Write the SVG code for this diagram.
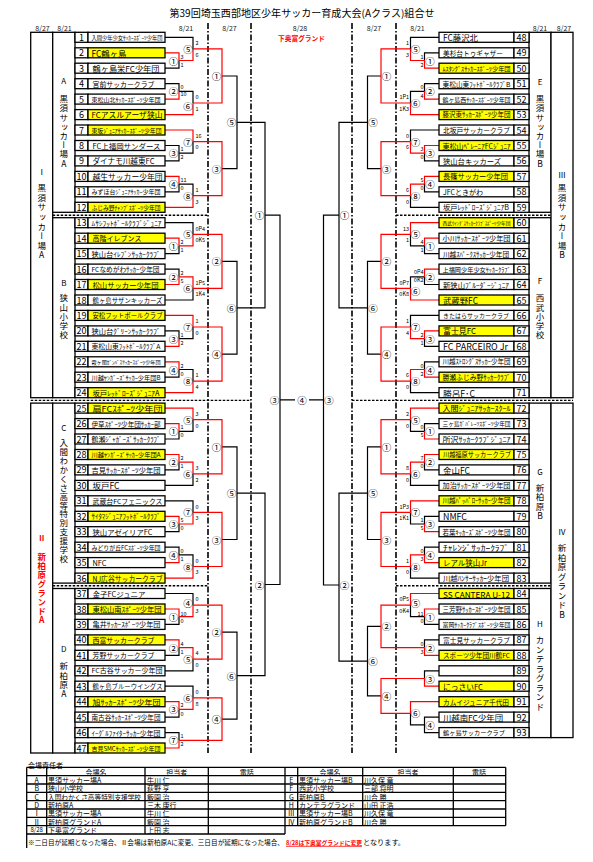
<svg xmlns="http://www.w3.org/2000/svg" width="593" height="862" viewBox="0 0 593 862">
<style>
text{font-family:"Noto Sans CJK JP","Noto Sans",sans-serif;fill:#000;dominant-baseline:central}
.bx{fill:#fff;stroke:#000;stroke-width:1.3}
.y{fill:#ffff00;stroke:#000;stroke-width:1.3}
.k{fill:none;stroke:#000;stroke-width:1.2}
.r{fill:none;stroke:#ff0000;stroke-width:1.2}
.n{font-size:9px;text-anchor:middle}
.c{font-size:9.5px;text-anchor:middle}
.s{font-size:5.5px}
.se{font-size:5.5px;text-anchor:end}
.d{font-size:7px;text-anchor:middle;fill:#222}
.dv{stroke:#000;stroke-width:1.6;stroke-dasharray:6 2 1.5 2;fill:none}
.dh{stroke:#000;stroke-width:1.4;stroke-dasharray:2.5 1.5;fill:none}
.v{font-size:8.5px;writing-mode:vertical-rl;text-orientation:upright;letter-spacing:0.7px}
.vl{font-size:8px;text-anchor:middle}
.red{fill:#ff0000;font-weight:bold}
.tb{fill:none;stroke:#000;stroke-width:1.3}
.tt{font-size:7px}
.tc{font-size:7px;text-anchor:middle}
</style>
<rect width="593" height="862" fill="#fff"/>
<text x="302" y="12" font-size="10" textLength="265" lengthAdjust="spacingAndGlyphs" text-anchor="middle">第39回埼玉西部地区少年サッカー育成大会(Aクラス)組合せ</text>
<g id="dates">
<text class="d" x="42.5" y="28">8/27</text><text class="d" x="64.5" y="28">8/21</text>
<text class="d" x="186" y="28">8/21</text><text class="d" x="229.5" y="28">8/27</text>
<text class="d" x="300" y="28">8/28</text>
<text class="d" x="374" y="28">8/27</text><text class="d" x="417.5" y="28">8/21</text>
<text class="d" x="540" y="28">8/21</text><text class="d" x="564" y="28">8/27</text>
</g>
<text x="278" y="38" font-size="6.7" class="red" textLength="47" lengthAdjust="spacingAndGlyphs">下奥富グランド</text>
<g id="dividers">
<path class="dv" d="M208 23V753M251 23V753M352 23V753M396 23V753"/>
<path class="dh" d="M52.7 215.3H208M52.7 585.8H208M396 215.3H551M396 585.8H551M30.7 400.4H251M352 400.4H573"/>
</g>
<g id="venues">
<rect class="bx" x="30.7" y="32.3" width="22" height="365.4"/>
<rect class="bx" x="30.7" y="403.1" width="22" height="349.9"/>
<rect class="bx" x="52.7" y="32.3" width="22.3" height="180"/>
<rect class="bx" x="52.7" y="217.7" width="22.3" height="180"/>
<rect class="bx" x="52.7" y="403.1" width="22.3" height="180"/>
<rect class="bx" x="52.7" y="588.5" width="22.3" height="164.5"/>
<rect class="bx" x="529" y="32.3" width="22" height="180"/>
<rect class="bx" x="529" y="217.7" width="22" height="180"/>
<rect class="bx" x="529" y="403.1" width="22" height="180"/>
<rect class="bx" x="529" y="588.5" width="22" height="149.1"/>
<rect class="bx" x="551" y="32.3" width="22" height="365.4"/>
<rect class="bx" x="551" y="403.1" width="22" height="334.5"/>
<text class="vl" x="63.8" y="80">A</text><text class="v" x="63.8" y="94.8">黒須サッカー場A</text>
<text class="vl" x="63.8" y="282">B</text><text class="v" x="63.8" y="293.8" style="letter-spacing:0.8px">狭山小学校</text>
<text class="vl" x="63.8" y="427">C</text><text class="v" x="63.8" y="438.8" style="letter-spacing:0.4px">入間わかくさ高等特別支援学校</text>
<text class="vl" x="63.8" y="648">D</text><text class="v" x="63.8" y="661.8" style="letter-spacing:0.8px">新柏原A</text>
<text class="vl" x="41.7" y="171">Ⅰ</text><text class="v" x="41.7" y="183.8" style="letter-spacing:1.1px">黒須サッカー場A</text>
<text class="vl red" x="41.7" y="537">Ⅱ</text><text class="v red" x="41.7" y="552.5" style="letter-spacing:0.5px">新柏原グランドA</text>
<text class="vl" x="540" y="81.7">E</text><text class="v" x="540" y="94.8">黒須サッカー場B</text>
<text class="vl" x="540" y="280">F</text><text class="v" x="540" y="293.8" style="letter-spacing:0.8px">西武小学校</text>
<text class="vl" x="540" y="471.7">G</text><text class="v" x="540" y="483.8">新柏原B</text>
<text class="vl" x="540" y="623">H</text><text class="v" x="540" y="635.8" style="letter-spacing:1px">カンテラグランド</text>
<text class="vl" x="562" y="174.7">Ⅲ</text><text class="v" x="562" y="183.8" style="letter-spacing:1.1px">黒須サッカー場B</text>
<text class="vl" x="562" y="531.7">Ⅳ</text><text class="v" x="562" y="543.8" style="letter-spacing:1px">新柏原グランドB</text>
</g>
<g id="connectors">
<path class="k" d="M165 68.2H179V60.5M165 83.7H179V91.4M165 145.5H179V160.9H165M165 191.8H179V184.1M165 37.3H193V48.9M179 91.4H193V103M179 153.2H193V141.6M179 184.1H193V195.7M222 76H237V168.7H222"/>
<path class="r" d="M165 52.8H179V60.5M165 99.1H179V91.4M165 176.4H179V184.1M179 60.5H193V48.9M165 114.6H193V103M165 130H193V141.6M165 207.3H193V195.7M193 48.9H222V103H193M193 141.6H222V195.7H193"/>
<path class="k" d="M165 253.6H179V245.9M165 269.1H179V276.8M165 330.9H179V338.6M165 377.2H179V369.5M165 222.7H193V234.3M165 300H193V288.4M179 338.6H193V327M179 369.5H193V381.1M222 261.4H237V354.1H222M237 122.4H265V307.8H237"/>
<path class="r" d="M165 238.2H179V245.9M165 284.5H179V276.8M165 346.3H179V338.6M165 361.8H179V369.5M179 245.9H193V234.3M179 276.8H193V288.4M165 315.4H193V327M165 392.7H193V381.1M193 234.3H222V288.4H193M193 327H222V381.1H193"/>
<path class="k" d="M165 439H179V431.3M165 469.9H179V462.2M165 531.7H179V524M165 547.2H179V554.9M179 431.3H193V419.7M165 485.4H193V473.8M165 500.8H193V512.4M179 554.9H193V566.5M222 446.8H237V539.5H222"/>
<path class="r" d="M165 423.6H179V431.3M165 454.5H179V462.2M165 516.3H179V524M165 562.6H179V554.9M165 408.1H193V419.7M179 462.2H193V473.8M179 524H193V512.4M165 578.1H193V566.5M193 419.7H222V473.8H193M193 512.4H222V566.5H193"/>
<path class="k" d="M165 624.4H179V616.7M165 655.3H179V647.6M165 717.1H179V709.4M165 732.6H179V740.3M165 593.5H193V605.1M165 670.8H193V659.2M165 686.2H193V697.8M222 632.2H237V719.1H222M237 493.2H265V675.7H237M265 215.1H280V584.5H265M280 399.8H295M309 399.8H323.5"/>
<path class="r" d="M165 609H179V616.7M165 639.9H179V647.6M165 701.7H179V709.4M165 748H179V740.3M179 616.7H193V605.1M179 647.6H193V659.2M179 709.4H193V697.8M193 605.1H222V659.2H193M193 697.8H222V740.3H179"/>
<path class="k" d="M439 52.8H424.5V60.5M439 83.7H424.5V91.4M439 160.9H424.5V153.2M439 191.8H424.5V184.1M439 37.3H410.5V48.9M424.5 91.4H410.5V103M439 130H410.5V141.6M439 207.3H410.5V195.7M381 76H367.5V168.7H381"/>
<path class="r" d="M439 68.2H424.5V60.5M439 99.1H424.5V91.4M439 145.5H424.5V153.2M439 176.4H424.5V184.1M424.5 60.5H410.5V48.9M439 114.6H410.5V103M424.5 153.2H410.5V141.6M424.5 184.1H410.5V195.7M410.5 48.9H381V103H410.5M410.5 141.6H381V195.7H410.5"/>
<path class="k" d="M439 253.6H424.5V245.9M439 284.5H424.5V276.8M439 346.3H424.5V338.6M439 361.8H424.5V369.5M424.5 245.9H410.5V234.3M424.5 276.8H410.5V288.4M439 315.4H410.5V327M439 392.7H410.5V381.1M381 261.4H367.5V354.1H381M367.5 122.4H339V307.8H367.5"/>
<path class="r" d="M439 238.2H424.5V245.9M439 269.1H424.5V276.8M439 330.9H424.5V338.6M439 377.2H424.5V369.5M439 222.7H410.5V234.3M439 300H410.5V288.4M424.5 338.6H410.5V327M424.5 369.5H410.5V381.1M410.5 234.3H381V288.4H410.5M410.5 327H381V381.1H410.5"/>
<path class="k" d="M439 423.6H424.5V431.3M439 469.9H424.5V462.2M439 516.3H424.5V524M439 547.2H424.5V554.9M424.5 431.3H410.5V419.7M439 485.4H410.5V473.8M424.5 524H410.5V512.4M439 578.1H410.5V566.5M381 446.8H367.5V539.5H381"/>
<path class="r" d="M439 439H424.5V431.3M439 454.5H424.5V462.2M439 531.7H424.5V524M439 562.6H424.5V554.9M439 408.1H410.5V419.7M424.5 462.2H410.5V473.8M439 500.8H410.5V512.4M424.5 554.9H410.5V566.5M410.5 419.7H381V473.8H410.5M410.5 512.4H381V566.5H410.5"/>
<path class="k" d="M424.5 616.7H410.5V605.1M439 624.4H424.5V616.7M439 639.9H424.5V647.6M439 670.8H424.5V678.5M439 717.1H424.5V732.6H439M424.5 724.9H410.5V713.3M381 626.4H367.5V695.9H381M367.5 493.2H339V661.2H367.5M339 215.1H323.5V585H339"/>
<path class="r" d="M439 593.5H410.5V605.1M439 609H424.5V616.7M439 655.3H424.5V647.6M410.5 605.1H381V647.6H424.5M439 686.2H424.5V678.5M439 701.7H410.5V713.3M424.5 678.5H381V713.3H410.5"/>
</g>
<g id="match-labels">
<text class="c" x="173.5" y="60.5">①</text><text class="c" x="173.5" y="91.4">②</text><text class="c" x="173.5" y="153.2">③</text><text class="c" x="173.5" y="184.1">④</text>
<text class="c" x="188" y="48.9">⑤</text><text class="c" x="188" y="105.5">⑥</text><text class="c" x="188" y="141.6">⑦</text><text class="c" x="188" y="195.7">⑧</text>
<text class="c" x="216.5" y="76">①</text><text class="c" x="216.5" y="168.7">③</text><text class="c" x="231.5" y="122.4">⑤</text>
<text class="c" x="173.5" y="245.9">①</text><text class="c" x="173.5" y="276.8">②</text><text class="c" x="173.5" y="338.6">③</text><text class="c" x="173.5" y="369.5">④</text>
<text class="c" x="188" y="234.3">⑤</text><text class="c" x="188" y="288.4">⑥</text><text class="c" x="188" y="327">⑦</text><text class="c" x="188" y="381.1">⑧</text>
<text class="c" x="216.5" y="261.4">②</text><text class="c" x="216.5" y="354.1">④</text><text class="c" x="231.5" y="307.8">⑥</text><text class="c" x="259.5" y="215.1">①</text>
<text class="c" x="173.5" y="431.3">①</text><text class="c" x="173.5" y="462.2">②</text><text class="c" x="173.5" y="524">③</text><text class="c" x="173.5" y="554.9">④</text>
<text class="c" x="188" y="419.7">⑤</text><text class="c" x="188" y="473.8">⑥</text><text class="c" x="188" y="512.4">⑦</text><text class="c" x="188" y="566.5">⑧</text>
<text class="c" x="216.5" y="446.8">①</text><text class="c" x="216.5" y="539.5">③</text><text class="c" x="231.5" y="493.2">⑤</text>
<text class="c" x="173.5" y="616.7">①</text><text class="c" x="173.5" y="647.6">②</text><text class="c" x="173.5" y="709.4">③</text><text class="c" x="173.5" y="740.3">⑦</text>
<text class="c" x="188" y="602.8">④</text><text class="c" x="188" y="659.2">⑤</text><text class="c" x="188" y="697.8">⑥</text>
<text class="c" x="216.5" y="632.2">②</text><text class="c" x="216.5" y="719.1">④</text><text class="c" x="231.5" y="675.7">⑥</text><text class="c" x="259.5" y="584.5">②</text>
<text class="c" x="274.5" y="399.8">③</text><text class="c" x="302" y="399.8">④</text><text class="c" x="329" y="399.8">③</text>
<text class="c" x="430" y="60.5">①</text><text class="c" x="430" y="91.4">②</text><text class="c" x="430" y="153.2">③</text><text class="c" x="430" y="184.1">④</text>
<text class="c" x="415.5" y="48.9">⑤</text><text class="c" x="415.5" y="103">⑥</text><text class="c" x="415.5" y="141.6">⑦</text><text class="c" x="415.5" y="195.7">⑧</text>
<text class="c" x="386.5" y="76">①</text><text class="c" x="386.5" y="168.7">③</text><text class="c" x="373" y="122.4">⑤</text>
<text class="c" x="430" y="245.9">①</text><text class="c" x="430" y="276.8">②</text><text class="c" x="430" y="338.6">③</text><text class="c" x="430" y="369.5">④</text>
<text class="c" x="415.5" y="234.3">⑤</text><text class="c" x="415.5" y="290.9">⑥</text><text class="c" x="415.5" y="327">⑦</text><text class="c" x="415.5" y="381.1">⑧</text>
<text class="c" x="386.5" y="261.4">②</text><text class="c" x="386.5" y="354.1">④</text><text class="c" x="373" y="307.8">⑥</text><text class="c" x="344.5" y="215.1">①</text>
<text class="c" x="430" y="431.3">①</text><text class="c" x="430" y="462.2">②</text><text class="c" x="430" y="524">③</text><text class="c" x="430" y="554.9">④</text>
<text class="c" x="415.5" y="419.7">⑤</text><text class="c" x="415.5" y="473.8">⑥</text><text class="c" x="415.5" y="512.4">⑦</text><text class="c" x="415.5" y="566.5">⑧</text>
<text class="c" x="386.5" y="446.8">①</text><text class="c" x="386.5" y="539.5">③</text><text class="c" x="373" y="493.2">⑤</text>
<text class="c" x="415.5" y="602.8">⑤</text><text class="c" x="430" y="616.7">①</text><text class="c" x="430" y="647.6">②</text>
<text class="c" x="430" y="678.5">③</text><text class="c" x="415.5" y="713.3">⑥</text><text class="c" x="430" y="724.9">④</text>
<text class="c" x="386.5" y="626.4">②</text><text class="c" x="386.5" y="695.9">④</text><text class="c" x="373" y="661.2">⑥</text><text class="c" x="344.5" y="585">②</text>
</g>
<g id="scores">
<text class="s" x="180.5" y="56.5">3</text><text class="s" x="180.5" y="64.6">1</text>
<text class="s" x="180.5" y="87.4">0</text><text class="s" x="180.5" y="94.3">10</text>
<text class="s" x="180.5" y="149.2">1</text><text class="s" x="180.5" y="157.3">2</text>
<text class="s" x="180.5" y="180">11</text><text class="s" x="180.5" y="188.2">0</text>
<text class="s" x="195.5" y="43.1">2</text><text class="s" x="195.5" y="54.7">6</text>
<text class="s" x="195.5" y="97.2">0</text><text class="s" x="195.5" y="108.8">1</text>
<text class="s" x="195.5" y="135.8">16</text><text class="s" x="195.5" y="147.4">0</text>
<text class="s" x="195.5" y="189.9">1</text><text class="s" x="195.5" y="201.5">3</text>
<text class="s" x="180.5" y="241.9">2</text><text class="s" x="180.5" y="250">1</text>
<text class="s" x="180.5" y="272.8">2</text><text class="s" x="180.5" y="280.9">5</text>
<text class="s" x="180.5" y="334.6">1</text><text class="s" x="180.5" y="342.7">2</text>
<text class="s" x="180.5" y="365.5">2</text><text class="s" x="180.5" y="373.6">0</text>
<text class="s" x="195.5" y="228.5">0P4</text><text class="s" x="195.5" y="240.1">0K5</text>
<text class="s" x="195.5" y="282.6">1P5</text><text class="s" x="195.5" y="294.2">1K4</text>
<text class="s" x="195.5" y="321.2">1</text><text class="s" x="195.5" y="332.8">0</text>
<text class="s" x="195.5" y="375.3">1</text><text class="s" x="195.5" y="386.9">4</text>
<text class="s" x="180.5" y="427.3">1</text><text class="s" x="180.5" y="435.4">0</text>
<text class="s" x="180.5" y="458.2">2</text><text class="s" x="180.5" y="466.3">1</text>
<text class="s" x="180.5" y="520">5</text><text class="s" x="180.5" y="528.1">0</text>
<text class="s" x="180.5" y="550.9">0</text><text class="s" x="180.5" y="559">1</text>
<text class="s" x="195.5" y="413.9">3</text><text class="s" x="195.5" y="425.5">0</text>
<text class="s" x="195.5" y="468">3</text><text class="s" x="195.5" y="479.6">2</text>
<text class="s" x="195.5" y="506.6">0</text><text class="s" x="195.5" y="518.2">3</text>
<text class="s" x="195.5" y="560.7">0</text><text class="s" x="195.5" y="572.3">3</text>
<text class="s" x="180.5" y="614.2">10</text><text class="s" x="180.5" y="621">0</text>
<text class="s" x="180.5" y="643.6">4</text><text class="s" x="180.5" y="651.7">1</text>
<text class="s" x="180.5" y="705.4">2</text><text class="s" x="180.5" y="713.5">0</text>
<text class="s" x="180.5" y="736.3">1</text><text class="s" x="180.5" y="744.4">2</text>
<text class="s" x="195.5" y="599.3">0</text><text class="s" x="195.5" y="610.9">3</text>
<text class="s" x="195.5" y="653.4">4</text><text class="s" x="195.5" y="665">0</text>
<text class="s" x="195.5" y="692">0</text><text class="s" x="195.5" y="703.6">8</text>
<text class="se" x="423.5" y="56.5">1</text><text class="se" x="423.5" y="64.6">2</text>
<text class="se" x="423.5" y="87.4">0</text><text class="se" x="423.5" y="95.5">4</text>
<text class="se" x="423.5" y="149.2">3</text><text class="se" x="423.5" y="157.3">0</text>
<text class="se" x="423.5" y="180.2">5</text><text class="se" x="423.5" y="188.2">0</text>
<text class="se" x="409" y="43.1">1</text><text class="se" x="409" y="54.7">3</text>
<text class="se" x="409" y="97.2">1P1</text><text class="se" x="409" y="108.8">1K3</text>
<text class="se" x="409" y="135.8">0</text><text class="se" x="409" y="147.4">6</text>
<text class="se" x="409" y="189.9">6</text><text class="se" x="409" y="201.5">0</text>
<text class="se" x="423.5" y="241.9">4</text><text class="se" x="423.5" y="250">1</text>
<text class="se" x="423.5" y="272.2">0P4</text><text class="se" x="423.5" y="279.6">0K2</text>
<text class="se" x="423.5" y="334.6">2</text><text class="se" x="423.5" y="342.7">1</text>
<text class="se" x="423.5" y="365.5">0</text><text class="se" x="423.5" y="373.6">2</text>
<text class="se" x="409" y="228.5">13</text><text class="se" x="409" y="240.1">1</text>
<text class="se" x="409" y="282.6">0P7</text><text class="se" x="409" y="294.2">0K8</text>
<text class="se" x="409" y="321.2">1</text><text class="se" x="409" y="332.8">4</text>
<text class="se" x="409" y="375.3">6</text><text class="se" x="409" y="386.9">0</text>
<text class="se" x="423.5" y="427.3">0</text><text class="se" x="423.5" y="435.4">5</text>
<text class="se" x="423.5" y="458.2">7</text><text class="se" x="423.5" y="466.3">0</text>
<text class="se" x="423.5" y="520">1</text><text class="se" x="423.5" y="528.1">5</text>
<text class="se" x="423.5" y="550.9">0</text><text class="se" x="423.5" y="559">3</text>
<text class="se" x="409" y="413.9">2</text><text class="se" x="409" y="425.5">0</text>
<text class="se" x="409" y="468">8</text><text class="se" x="409" y="479.6">0</text>
<text class="se" x="409" y="506.6">1P3</text><text class="se" x="409" y="518.2">1K1</text>
<text class="se" x="409" y="560.7">1</text><text class="se" x="409" y="572.3">0</text>
<text class="se" x="409" y="599.3">0P5</text><text class="se" x="409" y="610.9">0K4</text>
<text class="se" x="423.5" y="614.3">11</text><text class="se" x="423.5" y="621">0</text>
<text class="se" x="423.5" y="643.6">0</text><text class="se" x="423.5" y="651.7">3</text>
</g>
<g id="t1"><rect class="bx" x="75" y="32.3" width="13" height="10"/><rect class="bx" x="88" y="32.3" width="77" height="10"/><text class="n" x="81.5" y="37.3">1</text><text x="91.5" y="37.3" font-size="5.2" textLength="71" lengthAdjust="spacingAndGlyphs">入間少年少女ｻｯｶｰｽﾎﾟｰﾂ少年団</text></g>
<g id="t2"><rect class="bx" x="75" y="47.8" width="13" height="10"/><rect class="y" x="88" y="47.8" width="77" height="10"/><text class="n" x="81.5" y="52.8">2</text><text x="91.5" y="52.8" font-size="8.3" textLength="35" lengthAdjust="spacingAndGlyphs">FC鶴ヶ島</text></g>
<g id="t3"><rect class="bx" x="75" y="63.2" width="13" height="10"/><rect class="bx" x="88" y="63.2" width="77" height="10"/><text class="n" x="81.5" y="68.2">3</text><text x="92.5" y="68.2" font-size="8.1" textLength="67" lengthAdjust="spacingAndGlyphs">鶴ヶ島栄FC少年団</text></g>
<g id="t4"><rect class="bx" x="75" y="78.7" width="13" height="10"/><rect class="bx" x="88" y="78.7" width="77" height="10"/><text class="n" x="81.5" y="83.7">4</text><text x="92.5" y="83.7" font-size="6.9" textLength="62" lengthAdjust="spacingAndGlyphs">宮前サッカークラブ</text></g>
<g id="t5"><rect class="bx" x="75" y="94.1" width="13" height="10"/><rect class="bx" x="88" y="94.1" width="77" height="10"/><text class="n" x="81.5" y="99.1">5</text><text x="91.5" y="99.1" font-size="6" textLength="69" lengthAdjust="spacingAndGlyphs">東松山北ｻｯｶｰｽﾎﾟｰﾂ少年団</text></g>
<g id="t6"><rect class="bx" x="75" y="109.6" width="13" height="10"/><rect class="y" x="88" y="109.6" width="77" height="10"/><text class="n" x="81.5" y="114.6">6</text><text x="91.5" y="114.6" font-size="7.7" textLength="71" lengthAdjust="spacingAndGlyphs">FCアスルアーザ狭山</text></g>
<g id="t7"><rect class="bx" x="75" y="125" width="13" height="10"/><rect class="y" x="88" y="125" width="77" height="10"/><text class="n" x="81.5" y="130">7</text><text x="91.5" y="130" font-size="5.8" textLength="70" lengthAdjust="spacingAndGlyphs">東坂ｼﾞｭﾆｱｻｯｶｰｽﾎﾟｰﾂ少年団</text></g>
<g id="t8"><rect class="bx" x="75" y="140.5" width="13" height="10"/><rect class="bx" x="88" y="140.5" width="77" height="10"/><text class="n" x="81.5" y="145.5">8</text><text x="92.5" y="145.5" font-size="7.4" textLength="68" lengthAdjust="spacingAndGlyphs">FC上福岡サンダース</text></g>
<g id="t9"><rect class="bx" x="75" y="155.9" width="13" height="10"/><rect class="bx" x="88" y="155.9" width="77" height="10"/><text class="n" x="81.5" y="160.9">9</text><text x="92.5" y="160.9" font-size="7.6" textLength="62" lengthAdjust="spacingAndGlyphs">ダイナモ川越東FC</text></g>
<g id="t10"><rect class="bx" x="75" y="171.4" width="13" height="10"/><rect class="bx" x="88" y="171.4" width="77" height="10"/><text class="n" x="81.5" y="176.4">10</text><text x="92.5" y="176.4" font-size="7.7" textLength="70" lengthAdjust="spacingAndGlyphs">越生サッカー少年団</text></g>
<g id="t11"><rect class="bx" x="75" y="186.8" width="13" height="10"/><rect class="bx" x="88" y="186.8" width="77" height="10"/><text class="n" x="81.5" y="191.8">11</text><text x="91.5" y="191.8" font-size="6" textLength="69" lengthAdjust="spacingAndGlyphs">みずほ台ｼﾞｭﾆｱｻｯｶｰ少年団</text></g>
<g id="t12"><rect class="bx" x="75" y="202.3" width="13" height="10"/><rect class="y" x="88" y="202.3" width="77" height="10"/><text class="n" x="81.5" y="207.3">12</text><text x="91.5" y="207.3" font-size="5.7" textLength="69" lengthAdjust="spacingAndGlyphs">ふじみ野ﾁｬﾝﾌﾟｽﾎﾟｰﾂ少年団</text></g>
<g id="t13"><rect class="bx" x="75" y="217.7" width="13" height="10"/><rect class="bx" x="88" y="217.7" width="77" height="10"/><text class="n" x="81.5" y="222.7">13</text><text x="91.5" y="222.7" font-size="6.5" textLength="70" lengthAdjust="spacingAndGlyphs">ﾑｻｼﾌｯﾄﾎﾞｰﾙｸﾗﾌﾞｼﾞｭﾆｱ</text></g>
<g id="t14"><rect class="bx" x="75" y="233.2" width="13" height="10"/><rect class="y" x="88" y="233.2" width="77" height="10"/><text class="n" x="81.5" y="238.2">14</text><text x="92.5" y="238.2" font-size="7" textLength="49" lengthAdjust="spacingAndGlyphs">高階イレブンス</text></g>
<g id="t15"><rect class="bx" x="75" y="248.6" width="13" height="10"/><rect class="bx" x="88" y="248.6" width="77" height="10"/><text class="n" x="81.5" y="253.6">15</text><text x="91.5" y="253.6" font-size="6.5" textLength="69" lengthAdjust="spacingAndGlyphs">狭山台ｲﾚﾌﾞﾝｻｯｶｰｸﾗﾌﾞ</text></g>
<g id="t16"><rect class="bx" x="75" y="264.1" width="13" height="10"/><rect class="bx" x="88" y="264.1" width="77" height="10"/><text class="n" x="81.5" y="269.1">16</text><text x="91.5" y="269.1" font-size="6.6" textLength="68" lengthAdjust="spacingAndGlyphs">FCなめがわｻｯｶｰ少年団</text></g>
<g id="t17"><rect class="bx" x="75" y="279.5" width="13" height="10"/><rect class="y" x="88" y="279.5" width="77" height="10"/><text class="n" x="81.5" y="284.5">17</text><text x="92.5" y="284.5" font-size="7.3" textLength="66" lengthAdjust="spacingAndGlyphs">松山サッカー少年団</text></g>
<g id="t18"><rect class="bx" x="75" y="295" width="13" height="10"/><rect class="bx" x="88" y="295" width="77" height="10"/><text class="n" x="81.5" y="300">18</text><text x="92.5" y="300" font-size="6.3" textLength="70" lengthAdjust="spacingAndGlyphs">鶴ヶ島サザンキッカーズ</text></g>
<g id="t19"><rect class="bx" x="75" y="310.4" width="13" height="10"/><rect class="y" x="88" y="310.4" width="77" height="10"/><text class="n" x="81.5" y="315.4">19</text><text x="92.5" y="315.4" font-size="6.3" textLength="70" lengthAdjust="spacingAndGlyphs">安松フットボールクラブ</text></g>
<g id="t20"><rect class="bx" x="75" y="325.9" width="13" height="10"/><rect class="bx" x="88" y="325.9" width="77" height="10"/><text class="n" x="81.5" y="330.9">20</text><text x="91.5" y="330.9" font-size="6.5" textLength="69" lengthAdjust="spacingAndGlyphs">狭山台ｸﾞﾘｰﾝｻｯｶｰｸﾗﾌﾞ</text></g>
<g id="t21"><rect class="bx" x="75" y="341.3" width="13" height="10"/><rect class="bx" x="88" y="341.3" width="77" height="10"/><text class="n" x="81.5" y="346.3">21</text><text x="91.5" y="346.3" font-size="6.5" textLength="69" lengthAdjust="spacingAndGlyphs">東松山東ﾌｯﾄﾎﾞｰﾙｸﾗﾌﾞA</text></g>
<g id="t22"><rect class="bx" x="75" y="356.8" width="13" height="10"/><rect class="bx" x="88" y="356.8" width="77" height="10"/><text class="n" x="81.5" y="361.8">22</text><text x="91.5" y="361.8" font-size="5.1" textLength="69" lengthAdjust="spacingAndGlyphs">霞ヶ関ｶﾞﾝﾊﾞｽｻｯｶｰｽﾎﾟｰﾂ少年団</text></g>
<g id="t23"><rect class="bx" x="75" y="372.2" width="13" height="10"/><rect class="bx" x="88" y="372.2" width="77" height="10"/><text class="n" x="81.5" y="377.2">23</text><text x="91.5" y="377.2" font-size="6.2" textLength="69" lengthAdjust="spacingAndGlyphs">川越ﾔﾝｶﾞｰｽﾞｻｯｶｰ少年団B</text></g>
<g id="t24"><rect class="bx" x="75" y="387.7" width="13" height="10"/><rect class="y" x="88" y="387.7" width="77" height="10"/><text class="n" x="81.5" y="392.7">24</text><text x="92.5" y="392.7" font-size="7" textLength="67" lengthAdjust="spacingAndGlyphs">坂戸ﾚｯﾄﾞﾛｰｽﾞｼﾞｭﾆｱA</text></g>
<g id="t25"><rect class="bx" x="75" y="403.1" width="13" height="10"/><rect class="y" x="88" y="403.1" width="77" height="10"/><text class="n" x="81.5" y="408.1">25</text><text x="92.5" y="408.1" font-size="8" textLength="70" lengthAdjust="spacingAndGlyphs">扇FCｽﾎﾟｰﾂ少年団</text></g>
<g id="t26"><rect class="bx" x="75" y="418.6" width="13" height="10"/><rect class="bx" x="88" y="418.6" width="77" height="10"/><text class="n" x="81.5" y="423.6">26</text><text x="91.5" y="423.6" font-size="6.5" textLength="69" lengthAdjust="spacingAndGlyphs">伊草ｽﾎﾟｰﾂ少年団ｻｯｶｰ部</text></g>
<g id="t27"><rect class="bx" x="75" y="434" width="13" height="10"/><rect class="bx" x="88" y="434" width="77" height="10"/><text class="n" x="81.5" y="439">27</text><text x="91.5" y="439" font-size="6.5" textLength="69" lengthAdjust="spacingAndGlyphs">鶴瀬ｼﾞｬｶﾞｰｽﾞｻｯｶｰｸﾗﾌﾞ</text></g>
<g id="t28"><rect class="bx" x="75" y="449.5" width="13" height="10"/><rect class="y" x="88" y="449.5" width="77" height="10"/><text class="n" x="81.5" y="454.5">28</text><text x="91.5" y="454.5" font-size="6.2" textLength="69" lengthAdjust="spacingAndGlyphs">川越ﾔﾝｶﾞｰｽﾞｻｯｶｰ少年団A</text></g>
<g id="t29"><rect class="bx" x="75" y="464.9" width="13" height="10"/><rect class="bx" x="88" y="464.9" width="77" height="10"/><text class="n" x="81.5" y="469.9">29</text><text x="91.5" y="469.9" font-size="6.5" textLength="69" lengthAdjust="spacingAndGlyphs">吉見ｻｯｶｰｽﾎﾟｰﾂ少年団</text></g>
<g id="t30"><rect class="bx" x="75" y="480.4" width="13" height="10"/><rect class="bx" x="88" y="480.4" width="77" height="10"/><text class="n" x="81.5" y="485.4">30</text><text x="92.5" y="485.4" font-size="8.4" textLength="27" lengthAdjust="spacingAndGlyphs">坂戸FC</text></g>
<g id="t31"><rect class="bx" x="75" y="495.8" width="13" height="10"/><rect class="bx" x="88" y="495.8" width="77" height="10"/><text class="n" x="81.5" y="500.8">31</text><text x="92.5" y="500.8" font-size="6.8" textLength="70" lengthAdjust="spacingAndGlyphs">武蔵台FCフェニックス</text></g>
<g id="t32"><rect class="bx" x="75" y="511.3" width="13" height="10"/><rect class="y" x="88" y="511.3" width="77" height="10"/><text class="n" x="81.5" y="516.3">32</text><text x="91.5" y="516.3" font-size="6.5" textLength="69" lengthAdjust="spacingAndGlyphs">ｻｲﾀﾏｼﾞｭﾆｱﾌｯﾄﾎﾞｰﾙｸﾗﾌﾞ</text></g>
<g id="t33"><rect class="bx" x="75" y="526.7" width="13" height="10"/><rect class="bx" x="88" y="526.7" width="77" height="10"/><text class="n" x="81.5" y="531.7">33</text><text x="92.5" y="531.7" font-size="7.3" textLength="60" lengthAdjust="spacingAndGlyphs">狭山アゼイリアFC</text></g>
<g id="t34"><rect class="bx" x="75" y="542.2" width="13" height="10"/><rect class="bx" x="88" y="542.2" width="77" height="10"/><text class="n" x="81.5" y="547.2">34</text><text x="91.5" y="547.2" font-size="5.9" textLength="69" lengthAdjust="spacingAndGlyphs">みどりが丘FCｽﾎﾟｰﾂ少年団</text></g>
<g id="t35"><rect class="bx" x="75" y="557.6" width="13" height="10"/><rect class="bx" x="88" y="557.6" width="77" height="10"/><text class="n" x="81.5" y="562.6">35</text><text x="92.5" y="562.6" font-size="7.5" textLength="14" lengthAdjust="spacingAndGlyphs">NFC</text></g>
<g id="t36"><rect class="bx" x="75" y="573.1" width="13" height="10"/><rect class="y" x="88" y="573.1" width="77" height="10"/><text class="n" x="81.5" y="578.1">36</text><text x="92.5" y="578.1" font-size="7.5" textLength="70" lengthAdjust="spacingAndGlyphs">NJ広谷サッカークラブ</text></g>
<g id="t37"><rect class="bx" x="75" y="588.5" width="13" height="10"/><rect class="bx" x="88" y="588.5" width="77" height="10"/><text class="n" x="81.5" y="593.5">37</text><text x="92.5" y="593.5" font-size="7.3" textLength="53" lengthAdjust="spacingAndGlyphs">金子FCジュニア</text></g>
<g id="t38"><rect class="bx" x="75" y="604" width="13" height="10"/><rect class="y" x="88" y="604" width="77" height="10"/><text class="n" x="81.5" y="609">38</text><text x="92.5" y="609" font-size="7" textLength="69" lengthAdjust="spacingAndGlyphs">東松山南ｽﾎﾟｰﾂ少年団</text></g>
<g id="t39"><rect class="bx" x="75" y="619.4" width="13" height="10"/><rect class="bx" x="88" y="619.4" width="77" height="10"/><text class="n" x="81.5" y="624.4">39</text><text x="92.5" y="624.4" font-size="7" textLength="68" lengthAdjust="spacingAndGlyphs">亀井ｻｯｶｰｽﾎﾟｰﾂ少年団</text></g>
<g id="t40"><rect class="bx" x="75" y="634.9" width="13" height="10"/><rect class="y" x="88" y="634.9" width="77" height="10"/><text class="n" x="81.5" y="639.9">40</text><text x="92.5" y="639.9" font-size="6.9" textLength="62" lengthAdjust="spacingAndGlyphs">西富サッカークラブ</text></g>
<g id="t41"><rect class="bx" x="75" y="650.3" width="13" height="10"/><rect class="bx" x="88" y="650.3" width="77" height="10"/><text class="n" x="81.5" y="655.3">41</text><text x="92.5" y="655.3" font-size="6.9" textLength="62" lengthAdjust="spacingAndGlyphs">芳野サッカークラブ</text></g>
<g id="t42"><rect class="bx" x="75" y="665.8" width="13" height="10"/><rect class="bx" x="88" y="665.8" width="77" height="10"/><text class="n" x="81.5" y="670.8">42</text><text x="91.5" y="670.8" font-size="6.3" textLength="71" lengthAdjust="spacingAndGlyphs">FC古谷サッカー少年団</text></g>
<g id="t43"><rect class="bx" x="75" y="681.2" width="13" height="10"/><rect class="bx" x="88" y="681.2" width="77" height="10"/><text class="n" x="81.5" y="686.2">43</text><text x="92.5" y="686.2" font-size="6.3" textLength="70" lengthAdjust="spacingAndGlyphs">鶴ヶ島ブルーウイングス</text></g>
<g id="t44"><rect class="bx" x="75" y="696.7" width="13" height="10"/><rect class="y" x="88" y="696.7" width="77" height="10"/><text class="n" x="81.5" y="701.7">44</text><text x="92.5" y="701.7" font-size="7" textLength="68" lengthAdjust="spacingAndGlyphs">旭ｻｯｶｰｽﾎﾟｰﾂ少年団</text></g>
<g id="t45"><rect class="bx" x="75" y="712.1" width="13" height="10"/><rect class="bx" x="88" y="712.1" width="77" height="10"/><text class="n" x="81.5" y="717.1">45</text><text x="91.5" y="717.1" font-size="6.5" textLength="69" lengthAdjust="spacingAndGlyphs">南古谷ｻｯｶｰｽﾎﾟｰﾂ少年団</text></g>
<g id="t46"><rect class="bx" x="75" y="727.6" width="13" height="10"/><rect class="bx" x="88" y="727.6" width="77" height="10"/><text class="n" x="81.5" y="732.6">46</text><text x="91.5" y="732.6" font-size="6.5" textLength="69" lengthAdjust="spacingAndGlyphs">ｲｰｸﾞﾙﾌｧｲﾀｰｻｯｶｰ少年団</text></g>
<g id="t47"><rect class="bx" x="75" y="743" width="13" height="10"/><rect class="y" x="88" y="743" width="77" height="10"/><text class="n" x="81.5" y="748">47</text><text x="91.5" y="748" font-size="5.9" textLength="69" lengthAdjust="spacingAndGlyphs">吉見SMCｻｯｶｰｽﾎﾟｰﾂ少年団</text></g>
<g id="t48"><rect class="bx" x="439" y="32.3" width="75" height="10"/><rect class="bx" x="514" y="32.3" width="15" height="10"/><text class="n" x="521.5" y="37.3">48</text><text x="443" y="37.3" font-size="8.3" textLength="35" lengthAdjust="spacingAndGlyphs">FC藤沢北</text></g>
<g id="t49"><rect class="bx" x="439" y="47.8" width="75" height="10"/><rect class="bx" x="514" y="47.8" width="15" height="10"/><text class="n" x="521.5" y="52.8">49</text><text x="443" y="52.8" font-size="6.7" textLength="60" lengthAdjust="spacingAndGlyphs">美杉台トゥギャザー</text></g>
<g id="t50"><rect class="y" x="439" y="63.2" width="75" height="10"/><rect class="bx" x="514" y="63.2" width="15" height="10"/><text class="n" x="521.5" y="68.2">50</text><text x="442.5" y="68.2" font-size="6.1" textLength="68" lengthAdjust="spacingAndGlyphs">ﾑｽﾀﾝｸﾞｽｻｯｶｰｽﾎﾟｰﾂ少年団</text></g>
<g id="t51"><rect class="bx" x="439" y="78.7" width="75" height="10"/><rect class="bx" x="514" y="78.7" width="15" height="10"/><text class="n" x="521.5" y="83.7">51</text><text x="442.5" y="83.7" font-size="6.6" textLength="68" lengthAdjust="spacingAndGlyphs">東松山東ﾌｯﾄﾎﾞｰﾙｸﾗﾌﾞB</text></g>
<g id="t52"><rect class="bx" x="439" y="94.1" width="75" height="10"/><rect class="bx" x="514" y="94.1" width="15" height="10"/><text class="n" x="521.5" y="99.1">52</text><text x="442.5" y="99.1" font-size="5.9" textLength="68" lengthAdjust="spacingAndGlyphs">鶴ヶ島西ｻｯｶｰｽﾎﾟｰﾂ少年団</text></g>
<g id="t53"><rect class="y" x="439" y="109.6" width="75" height="10"/><rect class="bx" x="514" y="109.6" width="15" height="10"/><text class="n" x="521.5" y="114.6">53</text><text x="442.5" y="114.6" font-size="6.4" textLength="68" lengthAdjust="spacingAndGlyphs">藤沢東ｻｯｶｰｽﾎﾟｰﾂ少年団</text></g>
<g id="t54"><rect class="bx" x="439" y="125" width="75" height="10"/><rect class="bx" x="514" y="125" width="15" height="10"/><text class="n" x="521.5" y="130">54</text><text x="443" y="130" font-size="6.7" textLength="67" lengthAdjust="spacingAndGlyphs">北坂戸サッカークラブ</text></g>
<g id="t55"><rect class="y" x="439" y="140.5" width="75" height="10"/><rect class="bx" x="514" y="140.5" width="15" height="10"/><text class="n" x="521.5" y="145.5">55</text><text x="442.5" y="145.5" font-size="6.9" textLength="68" lengthAdjust="spacingAndGlyphs">東松山ﾍﾟﾚｰﾆｱFCｼﾞｭﾆｱ</text></g>
<g id="t56"><rect class="bx" x="439" y="155.9" width="75" height="10"/><rect class="bx" x="514" y="155.9" width="15" height="10"/><text class="n" x="521.5" y="160.9">56</text><text x="443" y="160.9" font-size="7.2" textLength="58" lengthAdjust="spacingAndGlyphs">狭山台キッカーズ</text></g>
<g id="t57"><rect class="y" x="439" y="171.4" width="75" height="10"/><rect class="bx" x="514" y="171.4" width="15" height="10"/><text class="n" x="521.5" y="176.4">57</text><text x="443" y="176.4" font-size="7.2" textLength="65" lengthAdjust="spacingAndGlyphs">長篠サッカー少年団</text></g>
<g id="t58"><rect class="bx" x="439" y="186.8" width="75" height="10"/><rect class="bx" x="514" y="186.8" width="15" height="10"/><text class="n" x="521.5" y="191.8">58</text><text x="443" y="191.8" font-size="7" textLength="40" lengthAdjust="spacingAndGlyphs">JFCときがわ</text></g>
<g id="t59"><rect class="bx" x="439" y="202.3" width="75" height="10"/><rect class="bx" x="514" y="202.3" width="15" height="10"/><text class="n" x="521.5" y="207.3">59</text><text x="443" y="207.3" font-size="7.1" textLength="66" lengthAdjust="spacingAndGlyphs">坂戸ﾚｯﾄﾞﾛｰｽﾞｼﾞｭﾆｱB</text></g>
<g id="t60"><rect class="y" x="439" y="217.7" width="75" height="10"/><rect class="bx" x="514" y="217.7" width="15" height="10"/><text class="n" x="521.5" y="222.7">60</text><text x="442.5" y="222.7" font-size="4.7" textLength="68" lengthAdjust="spacingAndGlyphs">西武ｳｲﾝｸﾞｽｻｯｶｰｸﾗﾌﾞｽﾎﾟｰﾂ少年団</text></g>
<g id="t61"><rect class="bx" x="439" y="233.2" width="75" height="10"/><rect class="bx" x="514" y="233.2" width="15" height="10"/><text class="n" x="521.5" y="238.2">61</text><text x="442.5" y="238.2" font-size="6.5" textLength="68" lengthAdjust="spacingAndGlyphs">小川ｻｯｶｰｽﾎﾟｰﾂ少年団</text></g>
<g id="t62"><rect class="bx" x="439" y="248.6" width="75" height="10"/><rect class="bx" x="514" y="248.6" width="15" height="10"/><text class="n" x="521.5" y="253.6">62</text><text x="443" y="253.6" font-size="6.6" textLength="66" lengthAdjust="spacingAndGlyphs">川越ｽﾊﾟｰｸｽｻｯｶｰ少年団</text></g>
<g id="t63"><rect class="bx" x="439" y="264.1" width="75" height="10"/><rect class="bx" x="514" y="264.1" width="15" height="10"/><text class="n" x="521.5" y="269.1">63</text><text x="442.5" y="269.1" font-size="6.1" textLength="68" lengthAdjust="spacingAndGlyphs">上福岡少年少女ｻｯｶｰｸﾗﾌﾞ</text></g>
<g id="t64"><rect class="bx" x="439" y="279.5" width="75" height="10"/><rect class="bx" x="514" y="279.5" width="15" height="10"/><text class="n" x="521.5" y="284.5">64</text><text x="443" y="284.5" font-size="7" textLength="66" lengthAdjust="spacingAndGlyphs">新狭山ﾌﾞﾙｰﾀﾞｰｼﾞｭﾆｱ</text></g>
<g id="t65"><rect class="y" x="439" y="295" width="75" height="10"/><rect class="bx" x="514" y="295" width="15" height="10"/><text class="n" x="521.5" y="300">65</text><text x="443" y="300" font-size="8.3" textLength="35" lengthAdjust="spacingAndGlyphs">武蔵野FC</text></g>
<g id="t66"><rect class="bx" x="439" y="310.4" width="75" height="10"/><rect class="bx" x="514" y="310.4" width="15" height="10"/><text class="n" x="521.5" y="315.4">66</text><text x="443" y="315.4" font-size="6" textLength="66" lengthAdjust="spacingAndGlyphs">きたはらサッカークラブ</text></g>
<g id="t67"><rect class="y" x="439" y="325.9" width="75" height="10"/><rect class="bx" x="514" y="325.9" width="15" height="10"/><text class="n" x="521.5" y="330.9">67</text><text x="443" y="330.9" font-size="8" textLength="33" lengthAdjust="spacingAndGlyphs">富士見FC</text></g>
<g id="t68"><rect class="bx" x="439" y="341.3" width="75" height="10"/><rect class="bx" x="514" y="341.3" width="15" height="10"/><text class="n" x="521.5" y="346.3">68</text><text x="443" y="346.3" font-size="8.5" textLength="65" lengthAdjust="spacingAndGlyphs">FC PARCEIRO Jr</text></g>
<g id="t69"><rect class="bx" x="439" y="356.8" width="75" height="10"/><rect class="bx" x="514" y="356.8" width="15" height="10"/><text class="n" x="521.5" y="361.8">69</text><text x="442.5" y="361.8" font-size="6.4" textLength="68" lengthAdjust="spacingAndGlyphs">川越ｽﾄﾛﾝｸﾞｽｻｯｶｰ少年団</text></g>
<g id="t70"><rect class="y" x="439" y="372.2" width="75" height="10"/><rect class="bx" x="514" y="372.2" width="15" height="10"/><text class="n" x="521.5" y="377.2">70</text><text x="442.5" y="377.2" font-size="6.8" textLength="68" lengthAdjust="spacingAndGlyphs">勝瀬ふじみ野ｻｯｶｰｸﾗﾌﾞ</text></g>
<g id="t71"><rect class="bx" x="439" y="387.7" width="75" height="10"/><rect class="bx" x="514" y="387.7" width="15" height="10"/><text class="n" x="521.5" y="392.7">71</text><text x="443" y="392.7" font-size="8.5" textLength="32" lengthAdjust="spacingAndGlyphs">勝呂F･C</text></g>
<g id="t72"><rect class="y" x="439" y="403.1" width="75" height="10"/><rect class="bx" x="514" y="403.1" width="15" height="10"/><text class="n" x="521.5" y="408.1">72</text><text x="442.5" y="408.1" font-size="7" textLength="68" lengthAdjust="spacingAndGlyphs">入間ｼﾞｭﾆｱｻｯｶｰｽｸｰﾙ</text></g>
<g id="t73"><rect class="bx" x="439" y="418.6" width="75" height="10"/><rect class="bx" x="514" y="418.6" width="15" height="10"/><text class="n" x="521.5" y="423.6">73</text><text x="442.5" y="423.6" font-size="5.6" textLength="68" lengthAdjust="spacingAndGlyphs">三ヶ島ｶﾞﾊﾞﾚｰﾂｽﾎﾟｰﾂ少年団</text></g>
<g id="t74"><rect class="bx" x="439" y="434" width="75" height="10"/><rect class="bx" x="514" y="434" width="15" height="10"/><text class="n" x="521.5" y="439">74</text><text x="442.5" y="439" font-size="7" textLength="68" lengthAdjust="spacingAndGlyphs">所沢ｻｯｶｰｸﾗﾌﾞｼﾞｭﾆｱ</text></g>
<g id="t75"><rect class="y" x="439" y="449.5" width="75" height="10"/><rect class="bx" x="514" y="449.5" width="15" height="10"/><text class="n" x="521.5" y="454.5">75</text><text x="443" y="454.5" font-size="6.4" textLength="68" lengthAdjust="spacingAndGlyphs">川越福原サッカークラブ</text></g>
<g id="t76"><rect class="bx" x="439" y="464.9" width="75" height="10"/><rect class="bx" x="514" y="464.9" width="15" height="10"/><text class="n" x="521.5" y="469.9">76</text><text x="443" y="469.9" font-size="8.4" textLength="27" lengthAdjust="spacingAndGlyphs">金山FC</text></g>
<g id="t77"><rect class="bx" x="439" y="480.4" width="75" height="10"/><rect class="bx" x="514" y="480.4" width="15" height="10"/><text class="n" x="521.5" y="485.4">77</text><text x="442.5" y="485.4" font-size="6.5" textLength="68" lengthAdjust="spacingAndGlyphs">加治ｻｯｶｰｽﾎﾟｰﾂ少年団</text></g>
<g id="t78"><rect class="y" x="439" y="495.8" width="75" height="10"/><rect class="bx" x="514" y="495.8" width="15" height="10"/><text class="n" x="521.5" y="500.8">78</text><text x="442.5" y="500.8" font-size="6.4" textLength="68" lengthAdjust="spacingAndGlyphs">川越ﾊﾟｯﾊﾟﾛｰｻｯｶｰ少年団</text></g>
<g id="t79"><rect class="bx" x="439" y="511.3" width="75" height="10"/><rect class="bx" x="514" y="511.3" width="15" height="10"/><text class="n" x="521.5" y="516.3">79</text><text x="443" y="516.3" font-size="8.5" textLength="24" lengthAdjust="spacingAndGlyphs">NMFC</text></g>
<g id="t80"><rect class="bx" x="439" y="526.7" width="75" height="10"/><rect class="bx" x="514" y="526.7" width="15" height="10"/><text class="n" x="521.5" y="531.7">80</text><text x="442.5" y="531.7" font-size="6.5" textLength="68" lengthAdjust="spacingAndGlyphs">若葉ｷｯｶｰｽﾞｽﾎﾟｰﾂ少年団</text></g>
<g id="t81"><rect class="bx" x="439" y="542.2" width="75" height="10"/><rect class="bx" x="514" y="542.2" width="15" height="10"/><text class="n" x="521.5" y="547.2">81</text><text x="443" y="547.2" font-size="8" textLength="66" lengthAdjust="spacingAndGlyphs">ﾁｬﾚﾝｼﾞｻｯｶｰｸﾗﾌﾞ</text></g>
<g id="t82"><rect class="y" x="439" y="557.6" width="75" height="10"/><rect class="bx" x="514" y="557.6" width="15" height="10"/><text class="n" x="521.5" y="562.6">82</text><text x="443" y="562.6" font-size="7.5" textLength="44" lengthAdjust="spacingAndGlyphs">レアル狭山Jr</text></g>
<g id="t83"><rect class="bx" x="439" y="573.1" width="75" height="10"/><rect class="bx" x="514" y="573.1" width="15" height="10"/><text class="n" x="521.5" y="578.1">83</text><text x="443" y="578.1" font-size="7.3" textLength="66" lengthAdjust="spacingAndGlyphs">川越ﾊﾝｻｰｻｯｶｰ少年団</text></g>
<g id="t84"><rect class="y" x="439" y="588.5" width="75" height="10"/><rect class="bx" x="514" y="588.5" width="15" height="10"/><text class="n" x="521.5" y="593.5">84</text><text x="443" y="593.5" font-size="8.2" textLength="67" lengthAdjust="spacingAndGlyphs">SS CANTERA U-12</text></g>
<g id="t85"><rect class="bx" x="439" y="604" width="75" height="10"/><rect class="bx" x="514" y="604" width="15" height="10"/><text class="n" x="521.5" y="609">85</text><text x="442.5" y="609" font-size="6.4" textLength="68" lengthAdjust="spacingAndGlyphs">三芳野ｻｯｶｰｽﾎﾟｰﾂ少年団</text></g>
<g id="t86"><rect class="bx" x="439" y="619.4" width="75" height="10"/><rect class="bx" x="514" y="619.4" width="15" height="10"/><text class="n" x="521.5" y="624.4">86</text><text x="442.5" y="624.4" font-size="5.9" textLength="68" lengthAdjust="spacingAndGlyphs">富岡ｻｯｶｰｸﾗﾌﾞｽﾎﾟｰﾂ少年団</text></g>
<g id="t87"><rect class="bx" x="439" y="634.9" width="75" height="10"/><rect class="bx" x="514" y="634.9" width="15" height="10"/><text class="n" x="521.5" y="639.9">87</text><text x="443" y="639.9" font-size="6.7" textLength="67" lengthAdjust="spacingAndGlyphs">富士見サッカークラブ</text></g>
<g id="t88"><rect class="y" x="439" y="650.3" width="75" height="10"/><rect class="bx" x="514" y="650.3" width="15" height="10"/><text class="n" x="521.5" y="655.3">88</text><text x="443" y="655.3" font-size="6.6" textLength="67" lengthAdjust="spacingAndGlyphs">スポーツ少年団川鶴FC</text></g>
<g id="t89"><rect class="bx" x="439" y="665.8" width="75" height="10"/><rect class="bx" x="514" y="665.8" width="15" height="10"/><text class="n" x="521.5" y="670.8">89</text></g>
<g id="t90"><rect class="y" x="439" y="681.2" width="75" height="10"/><rect class="bx" x="514" y="681.2" width="15" height="10"/><text class="n" x="521.5" y="686.2">90</text><text x="443" y="686.2" font-size="7.7" textLength="40" lengthAdjust="spacingAndGlyphs">にっさいFC</text></g>
<g id="t91"><rect class="y" x="439" y="696.7" width="75" height="10"/><rect class="bx" x="514" y="696.7" width="15" height="10"/><text class="n" x="521.5" y="701.7">91</text><text x="443" y="701.7" font-size="6.6" textLength="66" lengthAdjust="spacingAndGlyphs">カムイジュニア千代田</text></g>
<g id="t92"><rect class="bx" x="439" y="712.1" width="75" height="10"/><rect class="bx" x="514" y="712.1" width="15" height="10"/><text class="n" x="521.5" y="717.1">92</text><text x="443" y="717.1" font-size="8" textLength="60" lengthAdjust="spacingAndGlyphs">川越南FC少年団</text></g>
<g id="t93"><rect class="bx" x="439" y="727.6" width="75" height="10"/><rect class="bx" x="514" y="727.6" width="15" height="10"/><text class="n" x="521.5" y="732.6">93</text><text x="443" y="732.6" font-size="6.2" textLength="62" lengthAdjust="spacingAndGlyphs">鶴ヶ島サッカークラブ</text></g>
<g id="table">
<text class="tt" x="28" y="765">会場責任者</text>
<path class="tb" d="M26.7 767.3H505.7M26.7 775.7H505.7M26.7 784H505.7M26.7 792.3H505.7M26.7 800.7H505.7M26.7 809H505.7M26.7 817.3H505.7M26.7 825.7H505.7M26.7 834H285M26.7 767.3V848M46.7 767.3V834M145 767.3V834M208.3 767.3V834M285 767.3V834M297.7 767.3V825.7M362.7 767.3V825.7M453.3 767.3V825.7M505.7 767.3V825.7"/>
<text class="tc" x="96" y="771.5">会場名</text><text class="tc" x="176.7" y="771.5">担当者</text><text class="tc" x="246.7" y="771.5">電話</text>
<text class="tc" x="330" y="771.5">会場名</text><text class="tc" x="408" y="771.5">担当者</text><text class="tc" x="479" y="771.5">電話</text>
<text class="tc" x="36.7" y="779.8">A</text><text class="tt" x="48" y="779.8">黒須サッカー場A</text><text class="tt" x="147" y="779.8">牛川 仁</text>
<text class="tc" x="36.7" y="788.2">B</text><text class="tt" x="48" y="788.2">狭山小学校</text><text class="tt" x="147" y="788.2">荻野 亨</text>
<text class="tc" x="36.7" y="796.5">C</text><text class="tt" x="48" y="796.5" style="font-size:6.6px" textLength="93" lengthAdjust="spacingAndGlyphs">入間わかくさ高等特別支援学校</text><text class="tt" x="147" y="796.5">飯園 治</text>
<text class="tc" x="36.7" y="804.8">D</text><text class="tt" x="48" y="804.8">新柏原A</text><text class="tt" x="147" y="804.8">三木 康行</text>
<text class="tc" x="36.7" y="813.2">Ⅰ</text><text class="tt" x="48" y="813.2">黒須サッカー場A</text><text class="tt" x="147" y="813.2">牛川 仁</text>
<text class="tc" x="36.7" y="821.5">Ⅱ</text><text class="tt" x="48" y="821.5">新柏原グランドA</text><text class="tt" x="147" y="821.5">飯園 治</text>
<text class="tc" x="36.7" y="829.8" style="font-size:6px">8/28</text><text class="tt" x="48" y="829.8">下奥富グランド</text><text class="tt" x="147" y="829.8">上田 志</text>
<text class="tc" x="291.3" y="779.8">E</text><text class="tt" x="299" y="779.8">黒須サッカー場B</text><text class="tt" x="364" y="779.8">川久保 竜</text>
<text class="tc" x="291.3" y="788.2">F</text><text class="tt" x="299" y="788.2">西武小学校</text><text class="tt" x="364" y="788.2">三部 将明</text>
<text class="tc" x="291.3" y="796.5">G</text><text class="tt" x="299" y="796.5">新柏原B</text><text class="tt" x="364" y="796.5">川合 勝</text>
<text class="tc" x="291.3" y="804.8">H</text><text class="tt" x="299" y="804.8">カンテラグランド</text><text class="tt" x="364" y="804.8">山田 正浩</text>
<text class="tc" x="291.3" y="813.2">Ⅲ</text><text class="tt" x="299" y="813.2">黒須サッカー場B</text><text class="tt" x="364" y="813.2">川久保 竜</text>
<text class="tc" x="291.3" y="821.5">Ⅳ</text><text class="tt" x="299" y="821.5">新柏原グランドB</text><text class="tt" x="364" y="821.5">川合 勝</text>
<text x="28" y="842.3" font-size="6.6" textLength="256" lengthAdjust="spacingAndGlyphs">※二日目が延期となった場合、Ⅱ会場は新柏原Aに変更、三日目が延期になった場合、</text>
<text class="red" x="286" y="842.3" font-size="5.8" textLength="76" lengthAdjust="spacingAndGlyphs">8/28は下奥富グランドに変更</text>
<path d="M286 846.3H362" stroke="#ff0000" stroke-width="0.8"/>
<text x="363" y="842.3" font-size="6.6" textLength="42" lengthAdjust="spacingAndGlyphs">となります。</text>
</g>
</svg>
